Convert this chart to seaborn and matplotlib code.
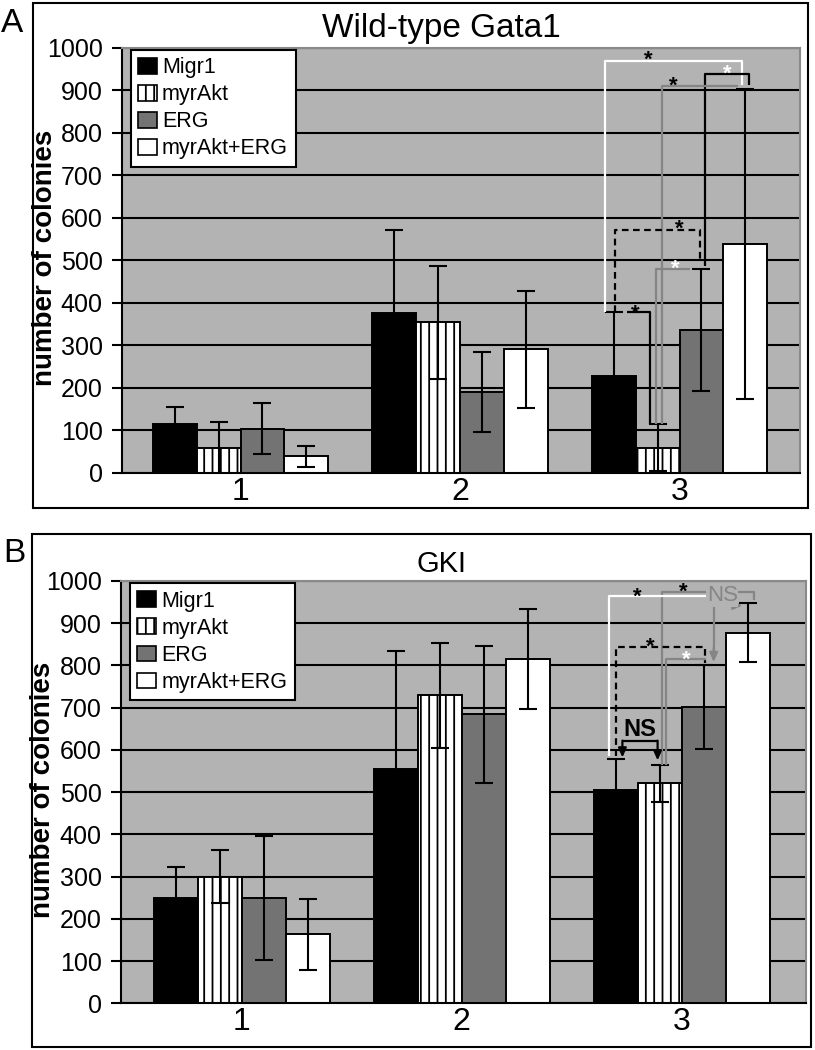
import numpy as np
import pandas as pd
import matplotlib
matplotlib.use("Agg")
import matplotlib.pyplot as plt
import seaborn as sns
from matplotlib.patches import Patch, Rectangle

# ---------------- data ----------------
groups = ["1", "2", "3"]
series = ["Migr1", "myrAkt", "ERG", "myrAkt+ERG"]

# Panel A: Wild-type Gata1
wt_migr1 = [113, 375, 227]
wt_migr1_sd = [42, 195, 150]
wt_myrakt = [57, 354, 58]
wt_myrakt_sd = [62, 133, 55]
wt_erg = [103, 190, 336]
wt_erg_sd = [60, 94, 143]
wt_akt_erg = [38, 290, 538]
wt_akt_erg_sd = [25, 137, 365]

# Panel B: GKI
gki_migr1 = [250, 554, 504]
gki_migr1_sd = [73, 281, 74]
gki_myrakt = [300, 729, 521]
gki_myrakt_sd = [62, 124, 44]
gki_erg = [249, 684, 701]
gki_erg_sd = [147, 163, 100]
gki_akt_erg = [164, 816, 878]
gki_akt_erg_sd = [84, 118, 70]

yticks = list(range(0, 1001, 100))

# ---------------- style ----------------
sns.set_theme(style="white")
plt.rcParams["font.family"] = ["Liberation Sans", "DejaVu Sans"]
plt.rcParams["hatch.linewidth"] = 1.3
for k in ["text.color", "axes.labelcolor", "xtick.color", "ytick.color"]:
    plt.rcParams[k] = "black"

BG = "#b3b3b3"
DARK = "#737373"
GRAY = "#858585"
colors = ["black", "white", DARK, "white"]
hatches = [None, "||", None, None]

fig = plt.figure(figsize=(8.15, 10.5), dpi=100)
W, H = 815.0, 1050.0

axA = fig.add_axes([122 / W, 1 - 472.5 / H, 678 / W, 424.8 / H])
axB = fig.add_axes([121 / W, 1 - 1003.3 / H, 685 / W, 422.3 / H])


def make_df(means, sds):
    rows = []
    for s, m, sd in zip(series, means, sds):
        for g, v, e in zip(groups, m, sd):
            rows.append({"group": g, "series": s, "value": v, "sd": e})
    return pd.DataFrame(rows)


def draw_panel(ax, df, xlim):
    sns.barplot(data=df, x="group", y="value", hue="series", order=groups,
                hue_order=series, palette=dict(zip(series, colors)),
                errorbar=None, edgecolor="black", linewidth=1.4, width=0.8,
                saturation=1, legend=False, ax=ax)
    centers = []
    for i, cont in enumerate(ax.containers):
        pts = sorted(cont.patches, key=lambda p: p.get_x())
        for p in pts:
            if hatches[i]:
                p.set_hatch(hatches[i])
            p.set_zorder(2)
        centers.append([p.get_x() + p.get_width() / 2 for p in pts])
    # error bars
    for i, s in enumerate(series):
        sub = df[df["series"] == s].set_index("group").loc[groups]
        ax.errorbar(centers[i], sub["value"].values, yerr=sub["sd"].values,
                    fmt="none", ecolor="black", elinewidth=1.5, capsize=6.5,
                    capthick=1.5, zorder=3)
    ax.set_facecolor(BG)
    ax.set_ylim(0, 1000)
    ax.set_xlim(*xlim)
    ax.set_yticks(yticks)
    ax.set_yticklabels([str(t) for t in yticks], fontsize=18)
    ax.set_xticks(range(len(groups)))
    ax.set_xticklabels(groups, fontsize=23)
    ax.set_axisbelow(True)
    ax.yaxis.grid(True, color="black", lw=1.5)
    ax.xaxis.grid(False)
    ax.tick_params(axis="y", direction="out", length=7, width=1.5,
                   color="black", pad=7, left=True)
    ax.tick_params(axis="x", length=0, pad=3)
    for side in ["left", "bottom"]:
        ax.spines[side].set_color("black")
        ax.spines[side].set_linewidth(1.5)
    for side in ["top", "right"]:
        ax.spines[side].set_color("#8a8a8a")
        ax.spines[side].set_linewidth(1.5)
    ax.set_xlabel("")
    ax.set_ylabel("number of colonies", fontsize=20, fontweight="bold")
    ax.yaxis.set_label_coords(-0.095, 0.505)
    handles = [Patch(facecolor=c, edgecolor="black", hatch=h, lw=1.2)
               for c, h in zip(colors, hatches)]
    leg = ax.legend(handles, series, loc="upper left",
                    bbox_to_anchor=(0.013, 0.995), borderaxespad=0,
                    fontsize=15.5,
                    handlelength=0.85, handleheight=0.72,
                    handletextpad=0.25, labelspacing=0.28, borderpad=0.35,
                    frameon=True, fancybox=False, framealpha=1)
    leg.get_frame().set_edgecolor("black")
    leg.get_frame().set_linewidth(1.5)
    leg.set_zorder(5)
    return centers


def path(ax, xs, ys, color, ls="-"):
    ax.plot(xs, ys, color=color, lw=1.6, ls=ls, solid_capstyle="butt",
            zorder=4)


def star(ax, x, y, color):
    ax.annotate("*", xy=(x, y), xytext=(0, -9), textcoords="offset points",
                ha="center", va="baseline", fontsize=16, fontweight="bold",
                color=color, zorder=6)


def arrow(ax, x0, y0, x1, y1, color):
    ax.annotate("", xy=(x1, y1), xytext=(x0, y0),
                arrowprops=dict(arrowstyle="-|>,head_length=0.45,head_width=0.2",
                                color=color, lw=1.6, shrinkA=0, shrinkB=0),
                zorder=4)


# ---------------- Panel A ----------------
dfA = make_df([wt_migr1, wt_myrakt, wt_erg, wt_akt_erg],
              [wt_migr1_sd, wt_myrakt_sd, wt_erg_sd, wt_akt_erg_sd])
cA = draw_panel(axA, dfA, (-0.540, 2.549))
M3, A3, E3, AE3 = cA[0][2], cA[1][2], cA[2][2], cA[3][2]
tM = wt_migr1[2] + wt_migr1_sd[2]
tA = wt_myrakt[2] + wt_myrakt_sd[2]
tE = wt_erg[2] + wt_erg_sd[2]
tAE = wt_akt_erg[2] + wt_akt_erg_sd[2]

path(axA, [M3 - 0.04, M3 - 0.04, AE3 - 0.015, AE3 - 0.015], [tM, 968, 968, tAE + 10], "white")
path(axA, [E3 + 0.018, E3 + 0.018, AE3 + 0.018, AE3 + 0.018], [tE + 6, 938, 938, tAE + 10], "black")
path(axA, [A3 + 0.018, A3 + 0.018, AE3 - 0.032], [tA, 909, 909], GRAY)
path(axA, [M3 + 0.005, M3 + 0.005, E3 - 0.008, E3 - 0.008], [tM, 570, 570, 500], "black", ls=(0, (3, 2)))
path(axA, [A3 - 0.005, A3 - 0.005, E3 - 0.05], [tA, 480, 480], GRAY)
path(axA, [M3 + 0.062, A3 - 0.033, A3 - 0.033], [tM, tM, tA], "black")
star(axA, M3 + 0.16, 988, "black")
star(axA, AE3 - 0.083, 953, "white")
star(axA, A3 + 0.07, 925, "black")
star(axA, E3 - 0.10, 588, "black")
star(axA, A3 + 0.08, 494, "white")
star(axA, M3 + 0.10, 390, "black")

# ---------------- Panel B ----------------
dfB = make_df([gki_migr1, gki_myrakt, gki_erg, gki_akt_erg],
              [gki_migr1_sd, gki_myrakt_sd, gki_erg_sd, gki_akt_erg_sd])
cB = draw_panel(axB, dfB, (-0.549, 2.5645))
M3, A3, E3, AE3 = cB[0][2], cB[1][2], cB[2][2], cB[3][2]
tM = gki_migr1[2] + gki_migr1_sd[2]
tA = gki_myrakt[2] + gki_myrakt_sd[2]
tE = gki_erg[2] + gki_erg_sd[2]
tAE = gki_akt_erg[2] + gki_akt_erg_sd[2]

path(axB, [A3 + 0.01, A3 + 0.01, AE3 + 0.03, AE3 + 0.03], [tA, 975, 975, 955], GRAY)
path(axB, [M3 - 0.03, M3 - 0.03, E3 + 0.01], [tM + 8, 965, 965], "white")
path(axB, [M3, M3, E3 + 0.005, E3 + 0.005], [tM + 8, 843, 843, tE + 5], "black", ls=(0, (3, 2)))
path(axB, [A3 + 0.03, A3 + 0.03, E3 + 0.01], [tA, 815, 815], GRAY)
path(axB, [E3 + 0.045, E3 + 0.045], [942, 830], GRAY)
arrow(axB, E3 + 0.045, 842, E3 + 0.045, 808, GRAY)
arrow(axB, E3 + 0.045, 942, AE3 - 0.024, 942, GRAY)
path(axB, [M3 + 0.03, A3 - 0.01], [622, 622], "black")
arrow(axB, M3 + 0.03, 622, M3 + 0.03, 582, "black")
arrow(axB, A3 - 0.01, 622, A3 - 0.01, 575, "black")
axB.text((M3 + A3) / 2 + 0.01, 634, "NS", ha="center", va="baseline",
         fontsize=17, fontweight="bold", color="black", zorder=6)
axB.text(E3 + 0.084, 953, "NS", ha="center", va="baseline", fontsize=16,
         color=GRAY, zorder=6,
         bbox=dict(facecolor=BG, edgecolor="none", pad=0.5))
star(axB, M3 + 0.097, 979, "black")
star(axB, A3 + 0.109, 989, "black")
star(axB, M3 + 0.155, 859, "black")
star(axB, A3 + 0.12, 829, "white")

# ---------------- frames, titles, panel letters ----------------
fig.add_artist(Rectangle((33 / W, 1 - 508 / H), (808 - 33) / W, (508 - 3) / H,
                         transform=fig.transFigure, fill=False,
                         edgecolor="black", lw=1.5))
fig.add_artist(Rectangle((32 / W, 1 - 1047 / H), (811 - 32) / W, (1047 - 534) / H,
                         transform=fig.transFigure, fill=False,
                         edgecolor="black", lw=1.5))
fig.text(441.5 / W, 1 - 37 / H, "Wild-type Gata1", ha="center", va="baseline",
         fontsize=24)
fig.text(441.5 / W, 1 - 572 / H, "GKI", ha="center", va="baseline",
         fontsize=21)
fig.text(1 / W, 1 - 32 / H, "A", ha="left", va="baseline", fontsize=24)
fig.text(3 / W, 1 - 562 / H, "B", ha="left", va="baseline", fontsize=24)

fig.savefig("out.png", dpi=100, facecolor="white")
